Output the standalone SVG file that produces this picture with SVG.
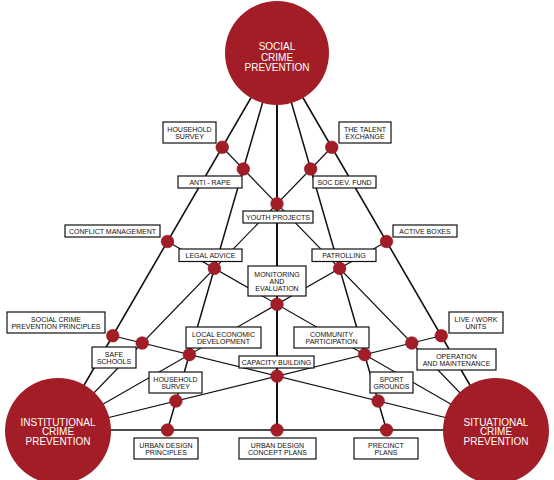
<svg xmlns="http://www.w3.org/2000/svg" width="554" height="480" viewBox="0 0 554 480">
<style>
.bg{fill:#ffffff}
.ln{stroke:#111;fill:none;stroke-width:1.2}
.ed{stroke:#111;fill:none;stroke-width:1.6}
.la{stroke:#111;fill:none;stroke-width:1.5}
.lc{stroke:#111;fill:none;stroke-width:2}
.big{fill:#A21D25}
.dot{fill:#A21D25;stroke:#8a1620;stroke-width:0.6}
.box{fill:#fff;stroke:#111;stroke-width:1.2}
.bt{font-family:"Liberation Sans",Arial,sans-serif;font-size:7px;fill:#111;text-anchor:middle}
.ct{font-family:"Liberation Sans",Arial,sans-serif;font-size:10px;fill:#fff;text-anchor:middle}
</style>
<rect class="bg" x="0" y="0" width="554" height="480"/>
<g id="connectors">
  <line class="ed" x1="277" y1="53" x2="58" y2="430"/>
  <line class="ed" x1="58" y1="430" x2="496" y2="430"/>
  <line class="ed" x1="496" y1="430" x2="277" y2="53"/>
  <line class="la" x1="277" y1="53" x2="167.5" y2="430"/>
  <line class="lc" x1="277" y1="53" x2="277" y2="430"/>
  <line class="la" x1="277" y1="53" x2="386.5" y2="430"/>
  <line class="ln" x1="58" y1="430" x2="331.75" y2="147.25"/>
  <line class="ln" x1="58" y1="430" x2="386.5" y2="241.5"/>
  <line class="ln" x1="58" y1="430" x2="441.25" y2="335.75"/>
  <line class="ln" x1="496" y1="430" x2="222.25" y2="147.25"/>
  <line class="ln" x1="496" y1="430" x2="167.5" y2="241.5"/>
  <line class="ln" x1="496" y1="430" x2="112.75" y2="335.75"/>
</g>
<g id="social">
  <circle class="big" cx="277" cy="53" r="52"/>
  <text class="ct" x="277" y="50">SOCIAL</text>
  <text class="ct" x="277" y="60.5">CRIME</text>
  <text class="ct" x="277" y="71">PREVENTION</text>
</g>
<g id="institutional">
  <circle class="big" cx="58" cy="431" r="53"/>
  <text class="ct" x="58" y="425.5">INSTITUTIONAL</text>
  <text class="ct" x="58" y="435.2">CRIME</text>
  <text class="ct" x="58" y="444.9">PREVENTION</text>
</g>
<g id="situational">
  <circle class="big" cx="496" cy="431" r="53"/>
  <text class="ct" x="496" y="425.5">SITUATIONAL</text>
  <text class="ct" x="496" y="435.2">CRIME</text>
  <text class="ct" x="496" y="444.9">PREVENTION</text>
</g>
<g id="dots">
  <circle class="dot" cx="222.25" cy="147.25" r="6.3"/>
  <circle class="dot" cx="331.75" cy="147.25" r="6.3"/>
  <circle class="dot" cx="243.3" cy="169" r="6.3"/>
  <circle class="dot" cx="310.7" cy="169" r="6.3"/>
  <circle class="dot" cx="277" cy="203.8" r="6.3"/>
  <circle class="dot" cx="167.5" cy="241.5" r="6.3"/>
  <circle class="dot" cx="386.5" cy="241.5" r="6.3"/>
  <circle class="dot" cx="214.4" cy="268.4" r="6.3"/>
  <circle class="dot" cx="339.6" cy="268.4" r="6.3"/>
  <circle class="dot" cx="277" cy="304.3" r="6.3"/>
  <circle class="dot" cx="112.75" cy="335.75" r="6.3"/>
  <circle class="dot" cx="441.25" cy="335.75" r="6.3"/>
  <circle class="dot" cx="142.2" cy="343" r="6.3"/>
  <circle class="dot" cx="411.8" cy="343" r="6.3"/>
  <circle class="dot" cx="189.4" cy="354.6" r="6.3"/>
  <circle class="dot" cx="364.6" cy="354.6" r="6.3"/>
  <circle class="dot" cx="277" cy="376.1" r="6.3"/>
  <circle class="dot" cx="175.9" cy="401" r="6.3"/>
  <circle class="dot" cx="378.1" cy="401" r="6.3"/>
  <circle class="dot" cx="167.5" cy="430" r="6.3"/>
  <circle class="dot" cx="277" cy="430" r="6.3"/>
  <circle class="dot" cx="386.5" cy="430" r="6.3"/>
</g>
<g id="household-survey-top"><rect class="box" x="163" y="122" width="53" height="21"/><text class="bt" x="189.5" y="131.6">HOUSEHOLD</text><text class="bt" x="189.5" y="138.7">SURVEY</text></g>
<g id="talent-exchange"><rect class="box" x="339" y="122" width="52" height="21"/><text class="bt" x="365" y="131.6">THE TALENT</text><text class="bt" x="365" y="138.7">EXCHANGE</text></g>
<g id="anti-rape"><rect class="box" x="178" y="176" width="64" height="12"/><text class="bt" x="210" y="184.5">ANTI - RAPE</text></g>
<g id="soc-dev-fund"><rect class="box" x="313" y="176" width="63" height="12"/><text class="bt" x="344.5" y="184.5">SOC DEV.  FUND</text></g>
<g id="youth-projects"><rect class="box" x="243" y="211" width="70" height="12"/><text class="bt" x="278" y="219.5">YOUTH PROJECTS</text></g>
<g id="conflict-management"><rect class="box" x="65" y="225" width="95" height="12"/><text class="bt" x="112.5" y="233.5">CONFLICT MANAGEMENT</text></g>
<g id="active-boxes"><rect class="box" x="393" y="225" width="64" height="12"/><text class="bt" x="425" y="233.5">ACTIVE BOXES</text></g>
<g id="legal-advice"><rect class="box" x="179" y="249" width="63" height="12.5"/><text class="bt" x="210.5" y="257.8">LEGAL  ADVICE</text></g>
<g id="patrolling"><rect class="box" x="312" y="249" width="64" height="12.5"/><text class="bt" x="344" y="257.8">PATROLLING</text></g>
<g id="monitoring"><rect class="box" x="248" y="266" width="58" height="30"/><text class="bt" x="277" y="276.7">MONITORING</text><text class="bt" x="277" y="284">AND</text><text class="bt" x="277" y="291.2">EVALUATION</text></g>
<g id="scp-principles"><rect class="box" x="7" y="312" width="98" height="21"/><text class="bt" x="56" y="321.6">SOCIAL CRIME</text><text class="bt" x="56" y="328.8">PREVENTION PRINCIPLES</text></g>
<g id="live-work"><rect class="box" x="449" y="312" width="54" height="21"/><text class="bt" x="476" y="321.6">LIVE / WORK</text><text class="bt" x="476" y="328.8">UNITS</text></g>
<g id="local-economic"><rect class="box" x="186" y="327" width="75" height="21"/><text class="bt" x="223.5" y="336.6">LOCAL ECONOMIC</text><text class="bt" x="223.5" y="343.8">DEVELOPMENT</text></g>
<g id="community"><rect class="box" x="294" y="327" width="75" height="21"/><text class="bt" x="331.5" y="336.6">COMMUNITY</text><text class="bt" x="331.5" y="343.8">PARTICIPATION</text></g>
<g id="safe-schools"><rect class="box" x="92" y="347" width="44" height="21"/><text class="bt" x="114" y="356.6">SAFE</text><text class="bt" x="114" y="363.8">SCHOOLS</text></g>
<g id="operation"><rect class="box" x="417" y="349" width="79" height="21"/><text class="bt" x="456.5" y="358.6">OPERATION</text><text class="bt" x="456.5" y="365.8">AND MAINTENANCE</text></g>
<g id="capacity"><rect class="box" x="239" y="356" width="75" height="12"/><text class="bt" x="276.5" y="364.5">CAPACITY BUILDING</text></g>
<g id="household-survey-low"><rect class="box" x="149" y="372" width="53" height="21"/><text class="bt" x="175.5" y="381.6">HOUSEHOLD</text><text class="bt" x="175.5" y="388.8">SURVEY</text></g>
<g id="sport-grounds"><rect class="box" x="370" y="372" width="43" height="21"/><text class="bt" x="391.5" y="381.6">SPORT</text><text class="bt" x="391.5" y="388.8">GROUNDS</text></g>
<g id="urban-principles"><rect class="box" x="134" y="438" width="64" height="21"/><text class="bt" x="166" y="447.6">URBAN DESIGN</text><text class="bt" x="166" y="454.8">PRINCIPLES</text></g>
<g id="urban-concept"><rect class="box" x="239" y="438" width="77" height="21"/><text class="bt" x="277.5" y="447.6">URBAN DESIGN</text><text class="bt" x="277.5" y="454.8">CONCEPT PLANS</text></g>
<g id="precinct"><rect class="box" x="354" y="438" width="64" height="21"/><text class="bt" x="386" y="447.6">PRECINCT</text><text class="bt" x="386" y="454.8">PLANS</text></g>
</svg>
